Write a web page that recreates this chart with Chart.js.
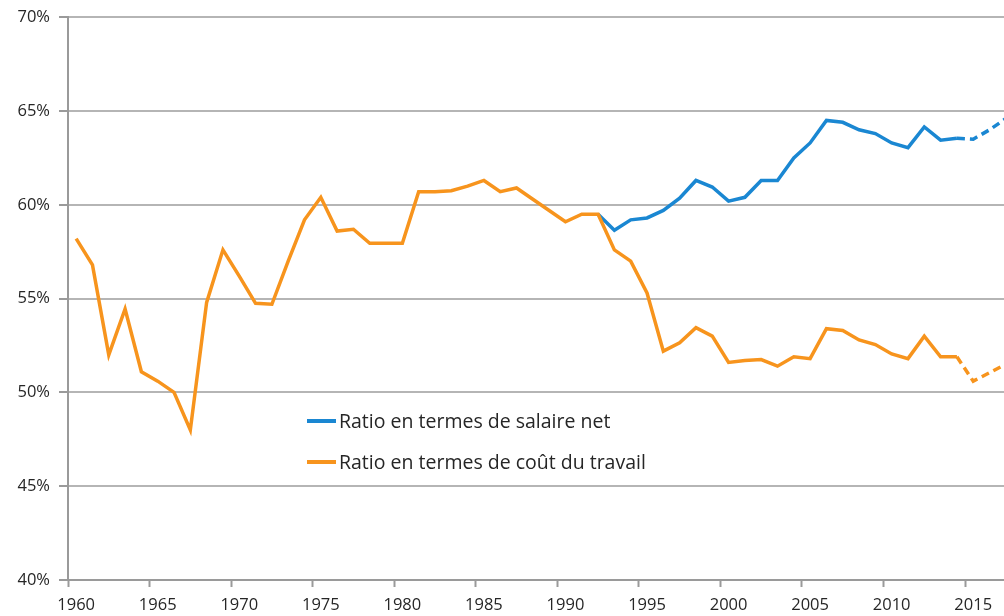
<!DOCTYPE html>
<html>
<head>
<meta charset="utf-8">
<script src="https://cdn.jsdelivr.net/npm/chart.js@4"></script>
<style>
  html, body { margin: 0; padding: 0; background: #fff; overflow: hidden; }
  #wrap { position: absolute; left: 0; top: 0; width: 1014px; height: 616px; }
  .leg { position: absolute; font-family: "Open Sans", sans-serif; font-size: 19.5px; color: #262626; white-space: nowrap; }
  .leg span.line { position: absolute; left: 0; width: 29px; height: 3.5px; top: 50%; margin-top: -1.75px; }
  .leg span.txt { position: absolute; left: 32px; top: 0; line-height: 26px; }
</style>
</head>
<body>
<div id="wrap"><canvas id="myChart"></canvas></div>
<div class="leg" style="left:307px; top:408px; width:330px; height:26px;">
  <span class="line" style="background:#1a87d2"></span><span class="txt">Ratio en termes de salaire net</span>
</div>
<div class="leg" style="left:307px; top:449px; width:330px; height:26px;">
  <span class="line" style="background:#f7941d"></span><span class="txt">Ratio en termes de coût du travail</span>
</div>
<script>
// years 1960 - 2017
const years = [];
for (let y = 1960; y <= 2017; y++) years.push(String(y));

// ratio en termes de coût du travail (%)
const coutTravail = [
  58.2, 56.8, 52.0, 54.45, 51.1, 50.6, 50.0, 48.0, 54.8, 57.6,
  56.2, 54.75, 54.7, 57.0, 59.2, 60.4, 58.6, 58.7, 57.95, 57.95,
  57.95, 60.7, 60.7, 60.75, 61.0, 61.3, 60.7, 60.9, 60.3, 59.7,
  59.1, 59.5, 59.5, 57.6, 57.0, 55.3, 52.2, 52.65, 53.45, 53.0,
  51.6, 51.7, 51.75, 51.4, 51.9, 51.8, 53.4, 53.3, 52.8, 52.55,
  52.05, 51.8, 53.0, 51.9, 51.9, 50.6, 51.05, 51.5
];

// ratio en termes de salaire net (%), starts in 1992
const salaireNet = [
  null, null, null, null, null, null, null, null, null, null,
  null, null, null, null, null, null, null, null, null, null,
  null, null, null, null, null, null, null, null, null, null,
  null, null, 59.5, 58.65, 59.2, 59.3, 59.7, 60.35, 61.3, 60.95,
  60.2, 60.4, 61.3, 61.3, 62.5, 63.3, 64.5, 64.4, 64.0, 63.8,
  63.3, 63.05, 64.15, 63.45, 63.55, 63.5, 64.0, 64.6
];

// projection (dashed) from this index on
const dashFrom = 54;

const ctx = document.getElementById('myChart');
const dashed = c => c.p0DataIndex >= dashFrom ? [8, 5] : undefined;

new Chart(ctx, {
  type: 'line',
  data: {
    labels: years,
    datasets: [{
      label: 'Ratio en termes de salaire net',
      data: salaireNet,
      borderColor: '#1a87d2',
      borderWidth: 3.5,
      pointRadius: 0,
      tension: 0,
      order: 2,
      segment: { borderDash: dashed }
    }, {
      label: 'Ratio en termes de coût du travail',
      data: coutTravail,
      borderColor: '#f7941d',
      borderWidth: 3.5,
      pointRadius: 0,
      tension: 0,
      order: 1,
      segment: { borderDash: dashed }
    }]
  },
  options: {
    responsive: true,
    maintainAspectRatio: false,
    animation: false,
    layout: { padding: { top: 16, left: 0, right: 0, bottom: 0 } },
    plugins: { legend: { display: false }, tooltip: { enabled: false } },
    scales: {
      x: {
        offset: true,
        afterFit: s => { s.height = 36; },
        grid: {
          offset: true,
          drawOnChartArea: false,
          drawTicks: true,
          tickLength: 7,
          tickWidth: 2,
          tickColor: c => c.index % 5 === 0 ? '#9a9a9a' : 'rgba(0,0,0,0)'
        },
        border: { display: true, color: '#9a9a9a', width: 2 },
        ticks: {
          autoSkip: false,
          maxRotation: 0,
          padding: 8,
          color: '#262626',
          font: { family: 'Open Sans', size: 16.5 },
          callback: function (v) {
            const y = Number(this.getLabelForValue(v));
            return y % 5 === 0 ? String(y) : '';
          }
        }
      },
      y: {
        min: 40,
        max: 70,
        afterFit: s => { s.width = 68; },
        grid: {
          color: '#b5b5b5',
          lineWidth: 2,
          drawTicks: true,
          tickLength: 9,
          tickColor: '#9a9a9a'
        },
        border: { display: true, color: '#9a9a9a', width: 2 },
        ticks: {
          stepSize: 5,
          padding: 9,
          color: '#262626',
          font: { family: 'Open Sans', size: 16.5, lineHeight: 1 },
          callback: v => v + '%'
        }
      }
    }
  }
});
</script>
</body>
</html>
